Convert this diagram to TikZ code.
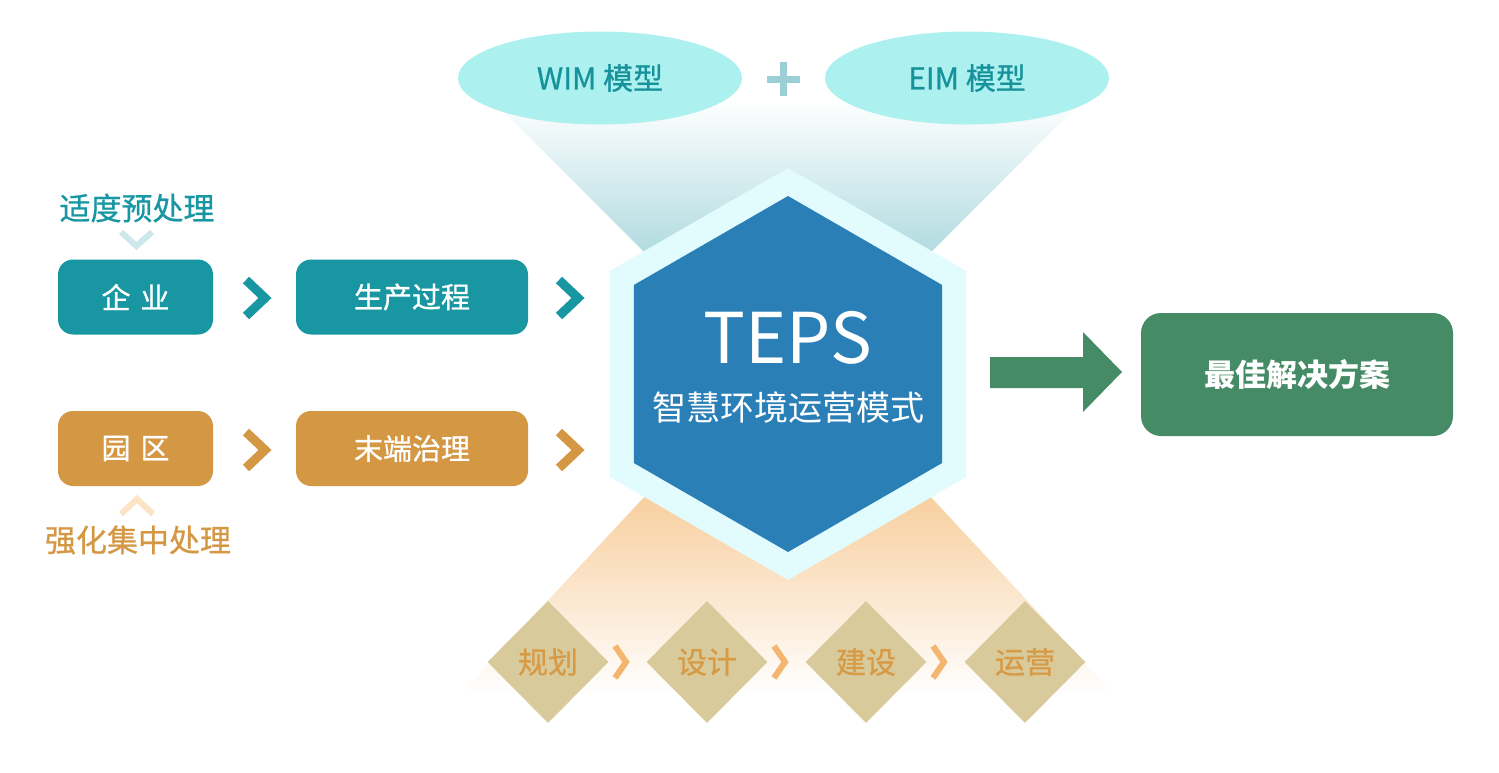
\documentclass[tikz,border=0pt]{standalone}
\usepackage{fontspec}
\setmainfont{Noto Sans CJK SC}
\newfontfamily\medium{Noto Sans CJK SC}[FakeBold=0.8]
\usetikzlibrary{shapes.geometric,positioning}

\definecolor{tealbox}{HTML}{1897A2}
\definecolor{orgbox}{HTML}{D49845}
\definecolor{hexlight}{HTML}{E2FCFD}
\definecolor{hexblue}{HTML}{2B7FB7}
\definecolor{solgreen}{HTML}{448B66}
\definecolor{modelfill}{HTML}{ACF0F0}
\definecolor{modeltext}{HTML}{17929B}
\definecolor{pluscol}{HTML}{9CCFD5}
\definecolor{funnelteal}{HTML}{A3D5DB}
\definecolor{funnelorg}{HTML}{F7CB97}
\definecolor{stagefill}{HTML}{D9CA9C}
\definecolor{stagetext}{HTML}{D79A45}
\definecolor{stagechev}{HTML}{F4B66F}
\definecolor{tealhint}{HTML}{CDE8EA}
\definecolor{orghint}{HTML}{FDE2C6}

\tikzset{
  box/.style={rounded corners=15pt, minimum height=75pt, inner sep=0pt, text=white, font=\medium\fontsize{29}{34}\selectfont},
  model/.style={ellipse, fill=modelfill, minimum width=284pt, minimum height=93pt, inner sep=0pt, text=modeltext, font=\medium\fontsize{30}{34}\selectfont},
  hexshape/.style={regular polygon, regular polygon sides=6, shape border rotate=30, inner sep=0pt, outer sep=0pt},
  stage/.style={diamond, fill=stagefill, minimum width=121pt, minimum height=122pt, inner sep=0pt, text=stagetext, font=\medium\fontsize{30}{34}\selectfont},
  chev/.style={line width=9pt, miter limit=10},
  thinchev/.style={line width=6pt, miter limit=10},
  note/.style={font=\medium\fontsize{31}{36}\selectfont}
}

\begin{document}
\begin{tikzpicture}[x=1pt,y=-1pt]
\useasboundingbox (0,0) rectangle (1499,772);

% light beams above and below the hexagon
\shade[top color=white, bottom color=funnelteal] (492,100) -- (1083,100) -- (903,280) -- (672,280) -- cycle;
\shade[top color=funnelorg, bottom color=white] (660,480) -- (915,480) -- (1115,695) -- (460,695) -- cycle;

% models
\node[model] (wim) at (600,78) {WIM 模型};
\node[model] (eim) at (967,78) {EIM 模型};
\draw[line width=7pt, pluscol] (767,79) -- (800,79) (783.5,62) -- (783.5,96);

% centre
\node[hexshape, fill=hexlight, minimum size=412pt] (hexo) at (788,374) {};
\node[hexshape, fill=hexblue, minimum size=356pt] (hex) at (788,374) {};
\node[text=white, font=\fontsize{70}{70}\selectfont] (teps) at (788,338) {TEPS};
\node[text=white, font=\fontsize{34}{38}\selectfont] (mode) at (788,408) {智慧环境运营模式};

% left side
\node[note, text=tealbox] (pre) at (137,208) {适度预处理};
\node[box, fill=tealbox, minimum width=155pt] (ent) at (135.5,297) {企\hspace{10pt}业};
\node[box, fill=tealbox, minimum width=232pt] (proc) at (412,297) {生产过程};
\node[box, fill=orgbox, minimum width=155pt] (park) at (135.5,448.5) {园\hspace{10pt}区};
\node[box, fill=orgbox, minimum width=232pt] (endt) at (412,448.5) {末端治理};
\node[note, text=orgbox] (conc) at (138,540) {强化集中处理};

\draw[thinchev, tealhint] (121,232) -- (136.5,246) -- (152,232);
\draw[thinchev, orghint] (121,514) -- (137,499) -- (153,514);

\draw[chev, tealbox] (246,280) -- (265,298) -- (246,316);
\draw[chev, tealbox] (559,280) -- (578,298) -- (559,316);
\draw[chev, orgbox] (246,432) -- (265,450) -- (246,468);
\draw[chev, orgbox] (559,432) -- (578,450) -- (559,468);

% result
\node[box, fill=solgreen, rounded corners=20pt, minimum width=312pt, minimum height=123pt, font=\bfseries\fontsize{31}{36}\selectfont] (sol) at (1297,374.5) {最佳解决方案};
\fill[solgreen] (990,357) -- (1083,357) -- (1083,332) -- (1122,372) -- (1083,412) -- (1083,388) -- (990,388) -- cycle;

% stages
\node[stage] (plan) at (548,662) {规划};
\node[stage] (design) at (707,662) {设计};
\node[stage] (build) at (866,662) {建设};
\node[stage] (oper) at (1025,662) {运营};

\draw[thinchev, stagechev] (615,646) -- (626,662) -- (615,678);
\draw[thinchev, stagechev] (774,646) -- (785,662) -- (774,678);
\draw[thinchev, stagechev] (933,646) -- (944,662) -- (933,678);

\end{tikzpicture}
\end{document}
